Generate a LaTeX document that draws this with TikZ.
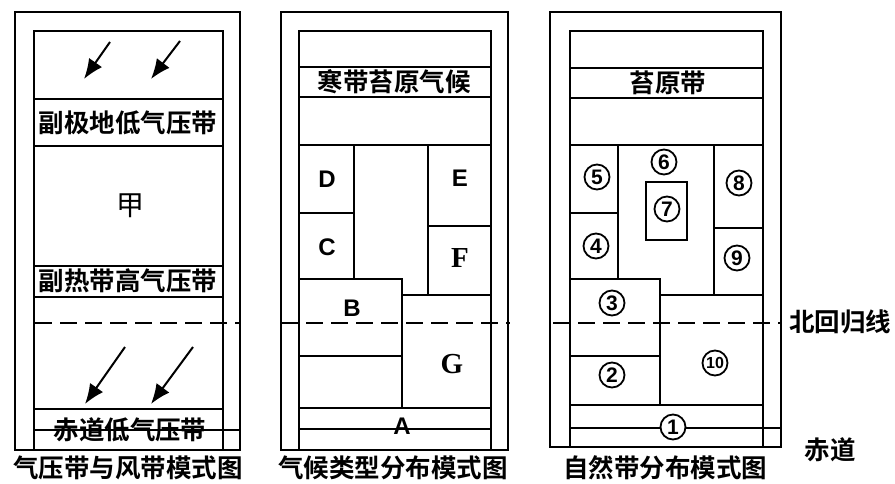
\documentclass[tikz,border=0pt]{standalone}
\usepackage{fontspec}
\newfontfamily\cjk{Noto Sans CJK SC}[BoldFont={Noto Sans CJK SC Bold}]
\newfontfamily\lsans{Liberation Sans}
\newfontfamily\lserif{Liberation Serif}
\usetikzlibrary{arrows.meta}
\begin{document}
\begin{tikzpicture}[x=1pt,y=-1pt,
  frame/.style={line width=2.6pt},
  inl/.style={line width=2.1pt},
  dline/.style={line width=2.4pt,dash pattern=on 17pt off 8pt},
  band/.style={inner sep=0pt,font=\cjk\bfseries\fontsize{25.5}{25.5}\selectfont},
  ttl/.style={inner sep=0pt,font=\cjk\bfseries\fontsize{25.5}{25.5}\selectfont},
  lett/.style={inner sep=0pt,font=\lsans\bfseries\fontsize{24}{24}\selectfont},
  sletter/.style={inner sep=0pt,font=\lserif\bfseries\fontsize{29}{29}\selectfont},
  circ/.style={circle,draw,line width=1.8pt,fill=white,inner sep=0pt,minimum size=25pt,font=\lsans\bfseries\fontsize{21}{21}\selectfont},
  wind/.style={line width=2pt,-{Latex[length=20pt,width=16pt]}}]
\useasboundingbox (0,0) rectangle (895,484);
% ---------------- panel 1 ----------------
\draw[frame] (15,12) rectangle (240,450);
\draw[frame] (34,31) rectangle (223,450);
\draw[inl] (34,99) -- (223,99);
\draw[inl] (34,146) -- (223,146);
\draw[inl] (34,266) -- (223,266);
\draw[inl] (34,297) -- (223,297);
\draw[inl] (34,409) -- (223,409);
\draw[inl] (34,430) -- (240,430);
\draw[dline] (35,323) -- (240,323);
\coordinate (w1s) at (110,42); \coordinate (w1e) at (84,79);
\coordinate (w2s) at (180,41); \coordinate (w2e) at (151,79);
\coordinate (w3s) at (125,347); \coordinate (w3e) at (85,404);
\coordinate (w4s) at (193,347); \coordinate (w4e) at (151,404);
\draw[wind] (w1s) -- (w1e);
\draw[wind] (w2s) -- (w2e);
\draw[wind] (w3s) -- (w3e);
\draw[wind] (w4s) -- (w4e);
\node[band] (p1a) at (128,123) {副极地低气压带};
\node[inner sep=0pt,font=\cjk\fontsize{28}{28}\selectfont] (p1b) at (130,206) {甲};
\node[band] (p1c) at (128,281) {副热带高气压带};
\node[band] (p1d) at (130,430) {赤道低气压带};
\node[ttl] (t1) at (128,468) {气压带与风带模式图};
% ---------------- panel 2 ----------------
\draw[frame] (281,12) rectangle (508,450);
\draw[frame] (299,31) rectangle (491,450);
\draw[inl] (299,67) -- (491,67);
\draw[inl] (299,97) -- (491,97);
\draw[inl] (299,145) -- (491,145);
\draw[inl] (354,145) -- (354,279);
\draw[inl] (299,213) -- (354,213);
\draw[inl] (428,145) -- (428,295);
\draw[inl] (428,226) -- (491,226);
\draw[inl] (299,279) -- (402,279) -- (402,408);
\draw[inl] (402,295) -- (491,295);
\draw[inl] (299,356) -- (402,356);
\draw[inl] (299,408) -- (491,408);
\draw[inl] (299,429) -- (491,429);
\draw[dline] (281,323) -- (510,323);
\node[band] (p2a) at (394,82) {寒带苔原气候};
\node[lett] (lD) at (327,179) {D};
\node[lett] (lE) at (460,178) {E};
\node[lett] (lC) at (327,247) {C};
\node[sletter] (lF) at (460,258) {F};
\node[lett] (lB) at (352,308) {B};
\node[sletter] (lG) at (452,364) {G};
\node[lett] (lA) at (402,426) {A};
\node[ttl] (t2) at (393,468) {气候类型分布模式图};
% ---------------- panel 3 ----------------
\draw[frame] (550,12) rectangle (781,447);
\draw[frame] (570,31) rectangle (763,447);
\draw[inl] (570,68) -- (763,68);
\draw[inl] (570,98) -- (763,98);
\draw[inl] (570,145) -- (763,145);
\draw[inl] (618,145) -- (618,279);
\draw[inl] (570,213) -- (618,213);
\draw[inl] (714,145) -- (714,295);
\draw[inl] (714,228) -- (763,228);
\draw[inl] (646,182) rectangle (687,240);
\draw[inl] (570,279) -- (660,279) -- (660,405);
\draw[inl] (660,295) -- (763,295);
\draw[inl] (570,356) -- (660,356);
\draw[inl] (570,405) -- (763,405);
\draw[inl] (570,428) -- (781,428);
\draw[dline] (553,323) -- (781,323);
\node[band] (p3a) at (668,83) {苔原带};
\node[circ] (n5) at (597,177) {5};
\node[circ] (n6) at (664,162) {6};
\node[circ] (n7) at (667,209) {7};
\node[circ] (n8) at (739,183) {8};
\node[circ] (n4) at (596,246) {4};
\node[circ] (n9) at (737,258) {9};
\node[circ] (n3) at (612,303) {3};
\node[circ] (n2) at (612,375) {2};
\node[circ,font=\lsans\bfseries\fontsize{16}{16}\selectfont] (n10) at (715,363) {10};
\node[circ] (n1) at (673,427) {1};
\node[ttl] (t3) at (665,468) {自然带分布模式图};
\node[band] (l1) at (840,322) {北回归线};
\node[band] (l2) at (830,450) {赤道};
\end{tikzpicture}
\end{document}
